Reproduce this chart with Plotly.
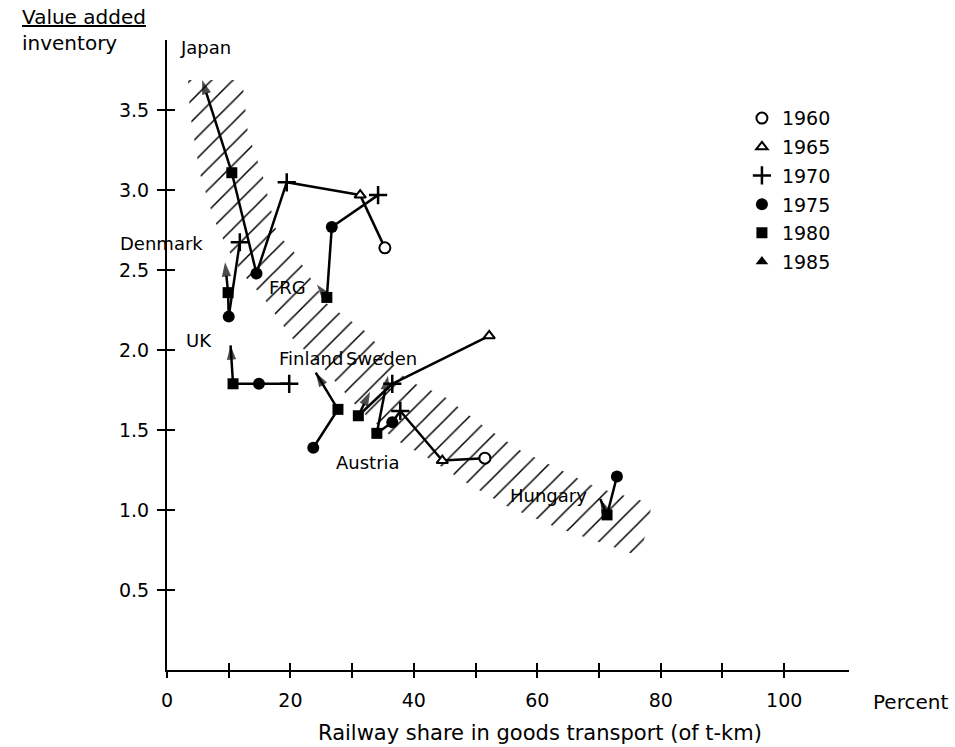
import plotly.graph_objects as go

# ---------------- data ----------------
years_all = [1960, 1965, 1970, 1975, 1980, 1985]

japan_years = [1960, 1965, 1970, 1975, 1980, 1985]
japan_share = [35.3, 31.3, 19.4, 14.5, 10.5, 5.7]
japan_value = [2.64, 2.97, 3.05, 2.48, 3.11, 3.69]

frg_years = [1970, 1975, 1980, 1985]
frg_share = [34.2, 26.7, 25.9, 24.3]
frg_value = [2.97, 2.77, 2.33, 2.41]

denmark_years = [1970, 1975, 1980, 1985]
denmark_share = [11.8, 10.0, 9.9, 9.4]
denmark_value = [2.675, 2.21, 2.36, 2.55]

uk_years = [1970, 1975, 1980, 1985]
uk_share = [19.8, 14.9, 10.7, 10.3]
uk_value = [1.79, 1.79, 1.79, 2.03]

finland_years = [1975, 1980, 1985]
finland_share = [23.7, 27.7, 24.1]
finland_value = [1.39, 1.63, 1.86]

sweden_years = [1965, 1970, 1980, 1985]
sweden_share = [52.2, 36.5, 31.0, 32.9]
sweden_value = [2.09, 1.79, 1.59, 1.74]

austria_years = [1960, 1965, 1970, 1975, 1980, 1985]
austria_share = [51.5, 44.6, 37.8, 36.5, 34.0, 35.8]
austria_value = [1.325, 1.31, 1.62, 1.55, 1.48, 1.84]

hungary_years = [1975, 1980, 1985]
hungary_share = [72.9, 71.3, 70.2]
hungary_value = [1.21, 0.97, 1.07]

country_names = ["Japan", "FRG", "Denmark", "UK", "Finland", "Sweden", "Austria", "Hungary"]
country_label_x = [6.2, 19.6, 6.2, 5.2, 23.3, 34.7, 32.6, 61.8]
country_label_y = [3.89, 2.39, 2.67, 2.06, 1.95, 1.95, 1.30, 1.09]
country_label_anchor = ["center", "center", "right", "center", "center", "center", "center", "center"]

# hatched band (upper edge left->right, lower edge right->left)
band_upper_x = [12.2, 13.1, 15.6, 17.8, 20.4, 25.9, 32.4, 38.9, 44.6, 51.1, 57.2, 64.8, 69.7, 78.6]
band_upper_y = [3.69, 3.36, 3.08, 2.73, 2.625, 2.29, 2.11, 1.81, 1.72, 1.53, 1.375, 1.23, 1.14, 1.04]
band_lower_x = [76.7, 71.5, 63.2, 55.3, 48.3, 42.1, 37.0, 31.3, 25.3, 20.3, 15.6, 12.2, 9.7, 7.5, 5.3, 3.7, 3.4]
band_lower_y = [0.71, 0.78, 0.89, 1.02, 1.175, 1.33, 1.44, 1.625, 1.89, 2.075, 2.33, 2.48, 2.64, 2.83, 3.11, 3.49, 3.69]

x_tickvals = [0, 10, 20, 30, 40, 50, 60, 70, 80, 90, 100]
x_ticktext = ["0", "", "20", "", "40", "", "60", "", "80", "", "100"]
y_tickvals = [0.5, 1.0, 1.5, 2.0, 2.5, 3.0, 3.5]
y_ticktext = ["0.5", "1.0", "1.5", "2.0", "2.5", "3.0", "3.5"]

# ---------------- styling ----------------
FONT = "DejaVu Sans"
INK = "black"

year_style = {
    1960: dict(symbol="circle", color="white", line=dict(color=INK, width=2), size=11),
    1965: dict(symbol="triangle-up", color="white", line=dict(color=INK, width=2), size=10),
    1970: dict(symbol="cross-thin", color=INK, line=dict(color=INK, width=2.5), size=13),
    1975: dict(symbol="circle", color=INK, line=dict(color=INK, width=0), size=12),
    1980: dict(symbol="square", color=INK, line=dict(color=INK, width=0), size=11),
    1985: dict(symbol="triangle-up", color=INK, line=dict(color=INK, width=0), size=11),
}

countries = [
    (japan_years, japan_share, japan_value),
    (frg_years, frg_share, frg_value),
    (denmark_years, denmark_share, denmark_value),
    (uk_years, uk_share, uk_value),
    (finland_years, finland_share, finland_value),
    (sweden_years, sweden_share, sweden_value),
    (austria_years, austria_share, austria_value),
    (hungary_years, hungary_share, hungary_value),
]

fig = go.Figure()

# hatched band
fig.add_trace(go.Scatter(
    x=band_upper_x + band_lower_x + [band_upper_x[0]],
    y=band_upper_y + band_lower_y + [band_upper_y[0]],
    mode="lines", line=dict(width=0, color="rgba(0,0,0,0)"),
    fill="toself", fillcolor="rgba(0,0,0,0)",
    fillpattern=dict(shape="/", size=15, solidity=0.1, fgcolor=INK, fgopacity=1,
                     bgcolor="rgba(0,0,0,0)"),
    showlegend=False, hoverinfo="skip",
))

# country paths with arrowheads at 1985
for name, (yrs, xs, ys) in zip(country_names, countries):
    sizes = [15 if yr == 1985 else 0 for yr in yrs]
    fig.add_trace(go.Scatter(
        x=xs, y=ys, mode="lines+markers", name=name,
        line=dict(color=INK, width=2.5),
        marker=dict(symbol="arrow", size=sizes, color=INK, angleref="previous",
                    line=dict(width=0)),
        showlegend=False, hoverinfo="skip",
    ))

# year markers (legend)
for yr in years_all:
    px, py = [], []
    if yr != 1985:
        for yrs, xs, ys in countries:
            for k, v in enumerate(yrs):
                if v == yr:
                    px.append(xs[k])
                    py.append(ys[k])
    st = year_style[yr]
    fig.add_trace(go.Scatter(
        x=px if px else [None], y=py if py else [None], mode="markers", name=str(yr),
        marker=dict(symbol=st["symbol"], size=st["size"], color=st["color"], line=st["line"]),
        legendgroup=str(yr), hoverinfo="skip",
    ))

# dummy trace for overlay axes (ticks crossing the axis lines)
fig.add_trace(go.Scatter(x=[None], y=[None], xaxis="x2", yaxis="y2", showlegend=False))

# country labels
for name, lx, ly, anc in zip(country_names, country_label_x, country_label_y, country_label_anchor):
    fig.add_annotation(x=lx, y=ly, text=name, showarrow=False, xanchor=anc,
                       font=dict(family=FONT, size=18, color=INK))

XR = [0, 110.5]
YR = [0, 3.94]
axis_font = dict(family=FONT, size=19, color=INK)

fig.update_layout(
    width=955, height=747,
    margin=dict(l=167, r=106, t=40, b=77),
    paper_bgcolor="white", plot_bgcolor="white",
    font=dict(family=FONT, size=19, color=INK),
    xaxis=dict(range=XR, showgrid=False, zeroline=False, showline=True, linecolor=INK, linewidth=2,
               ticks="outside", ticklen=6, tickwidth=2, tickcolor=INK,
               tickvals=x_tickvals, ticktext=x_ticktext, tickfont=axis_font, ticklabelstandoff=6),
    yaxis=dict(range=YR, showgrid=False, zeroline=False, showline=True, linecolor=INK, linewidth=2,
               ticks="outside", ticklen=8, tickwidth=2, tickcolor=INK,
               tickvals=y_tickvals, ticktext=y_ticktext, tickfont=axis_font, ticklabelstandoff=4),
    xaxis2=dict(range=XR, overlaying="x", anchor="y2", showgrid=False, zeroline=False, showline=False,
                ticks="inside", ticklen=7, tickwidth=2, tickcolor=INK,
                tickvals=x_tickvals[1:], showticklabels=False),
    yaxis2=dict(range=YR, overlaying="y", anchor="x2", showgrid=False, zeroline=False, showline=False,
                ticks="inside", ticklen=8, tickwidth=2, tickcolor=INK,
                tickvals=y_tickvals, showticklabels=False),
    legend=dict(x=0.843, y=0.906, xanchor="left", yanchor="top", font=dict(family=FONT, size=19, color=INK),
                bgcolor="rgba(0,0,0,0)", borderwidth=0, tracegroupgap=1, itemwidth=30),
    showlegend=True,
)

# axis titles / unit labels
fig.add_annotation(xref="paper", yref="paper", x=-0.2155, y=1.058, xanchor="left", yanchor="top",
                   text="<u>Value added</u><br>inventory", align="left", showarrow=False,
                   font=dict(family=FONT, size=20, color=INK))
fig.add_annotation(xref="paper", yref="paper", x=1.032, y=-0.051, xanchor="left", yanchor="middle",
                   text="Percent", showarrow=False, font=dict(family=FONT, size=20, color=INK))
fig.add_annotation(xref="paper", yref="paper", x=0.547, y=-0.1, xanchor="center", yanchor="middle",
                   text="Railway share in goods transport (of t-km)", showarrow=False,
                   font=dict(family=FONT, size=21, color=INK))

fig.write_html("out.html", config={"displayModeBar": False},
               post_script="document.body.style.margin='0px';")
